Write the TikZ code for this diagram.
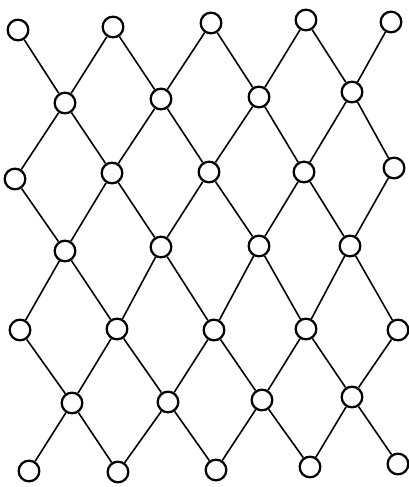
\documentclass[tikz,border=0pt]{standalone}
\usepackage{tikz}
\usetikzlibrary{calc}

\begin{document}
\begin{tikzpicture}[
  x=0.75pt, y=-0.75pt,
  site/.style={circle, draw, fill=white, line width=1.7pt,
               minimum size=15.5pt, inner sep=0pt},
  link/.style={line width=1.2pt}
]
\useasboundingbox (0,0) rectangle (409,487);

% ---------------- Row a (top) ----------------
\node[site] (a1) at (18,30)  {};
\node[site] (a2) at (113,27) {};
\node[site] (a3) at (211,23) {};
\node[site] (a4) at (306,20) {};
\node[site] (a5) at (391,22) {};

% ---------------- Row b ----------------
\node[site] (b1) at (65,103)  {};
\node[site] (b2) at (161,99)  {};
\node[site] (b3) at (259,97)  {};
\node[site] (b4) at (352,92)  {};

% ---------------- Row c ----------------
\node[site] (c1) at (15,179)  {};
\node[site] (c2) at (112,173) {};
\node[site] (c3) at (209,172) {};
\node[site] (c4) at (304,172) {};
\node[site] (c5) at (394,168) {};

% ---------------- Row d ----------------
\node[site] (d1) at (65,251)  {};
\node[site] (d2) at (161,247) {};
\node[site] (d3) at (259,246) {};
\node[site] (d4) at (350,246) {};

% ---------------- Row e ----------------
\node[site] (e1) at (20,330)  {};
\node[site] (e2) at (117,329) {};
\node[site] (e3) at (214,330) {};
\node[site] (e4) at (306,329) {};
\node[site] (e5) at (398,330) {};

% ---------------- Row f ----------------
\node[site] (f1) at (72,403)  {};
\node[site] (f2) at (168,402) {};
\node[site] (f3) at (262,400) {};
\node[site] (f4) at (352,397) {};

% ---------------- Row g (bottom) ----------------
\node[site] (g1) at (29,471)  {};
\node[site] (g2) at (118,472) {};
\node[site] (g3) at (216,470) {};
\node[site] (g4) at (310,467) {};
\node[site] (g5) at (398,464) {};

% ---------------- Diagonals, down to the right ----------------
\draw[link] (a1) -- (b1) -- (c2) -- (d2) -- (e3) -- (f3) -- (g4);
\draw[link] (a2) -- (b2) -- (c3) -- (d3) -- (e4) -- (f4) -- (g5);
\draw[link] (a3) -- (b3) -- (c4) -- (d4) -- (e5);
\draw[link] (a4) -- (b4) -- (c5);
\draw[link] (c1) -- (d1) -- (e2) -- (f2) -- (g3);
\draw[link] (e1) -- (f1) -- (g2);

% ---------------- Diagonals, down to the left ----------------
\draw[link] (a5) -- (b4) -- (c4) -- (d3) -- (e3) -- (f2) -- (g2);
\draw[link] (a4) -- (b3) -- (c3) -- (d2) -- (e2) -- (f1) -- (g1);
\draw[link] (a3) -- (b2) -- (c2) -- (d1) -- (e1);
\draw[link] (a2) -- (b1) -- (c1);
\draw[link] (c5) -- (d4) -- (e4) -- (f3) -- (g3);
\draw[link] (e5) -- (f4) -- (g4);

\end{tikzpicture}
\end{document}
